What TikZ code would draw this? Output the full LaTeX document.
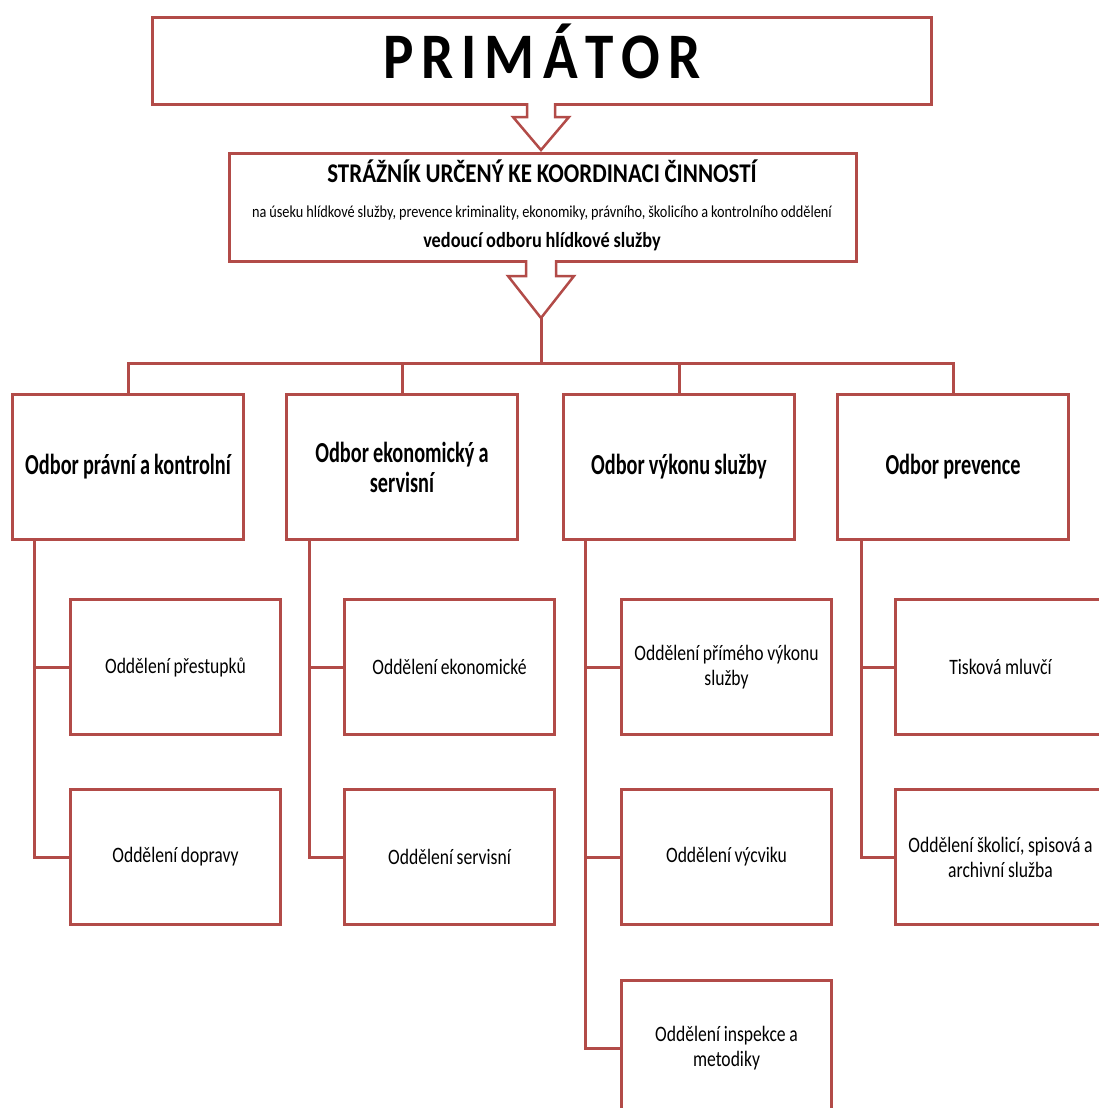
\documentclass[tikz,border=0pt]{standalone}
\usepackage{fontspec}
\setmainfont{Carlito}
\newfontfamily\primf[FakeStretch=0.88]{Carlito}
\newfontfamily\titlef[FakeStretch=0.85,WordSpace=0.9]{Carlito}
\newfontfamily\deptf[FakeStretch=0.70,WordSpace=0.9]{Carlito}
\newfontfamily\subf[FakeStretch=0.80,WordSpace=0.9]{Carlito}
\definecolor{brd}{RGB}{178,75,72}
\tikzset{
  box/.style={draw=brd, line width=3pt, fill=white, anchor=north west, inner sep=0pt, align=flush center},
  dept/.style={box, minimum width=231pt, minimum height=145pt, text width=225pt, font=\deptf\bfseries\fontsize{29}{30}\selectfont},
  sub/.style={box, minimum width=210pt, minimum height=135pt, text width=204pt, font=\subf\fontsize{22}{25}\selectfont},
  conn/.style={draw=brd, line width=3pt},
  arrowline/.style={draw=brd, line width=2.5pt, line join=miter},
  lbl/.style={anchor=base, inner sep=0pt}
}
\begin{document}
\begin{tikzpicture}[x=1pt,y=-1pt]
\useasboundingbox (0,0) rectangle (1099,1108);
\clip (0,0) rectangle (1099,1108);

% top box
\node[box, minimum width=779pt, minimum height=87pt] (prim) at (151,16) {};
\node[lbl] (primtext) at (542,78) {\primf\bfseries\fontsize{65}{70}\selectfont P\hspace{8pt}R\hspace{8pt}I\hspace{8pt}M\hspace{8pt}Á\hspace{8pt}T\hspace{8pt}O\hspace{8pt}R};

% second box
\node[box, minimum width=627pt, minimum height=108pt] (coord) at (228,152) {};
\node[lbl] (t1) at (542,182) {\titlef\bfseries\fontsize{27}{30}\selectfont STRÁŽNÍK URČENÝ KE KOORDINACI ČINNOSTÍ};
\node[lbl] (t2) at (542,217) {\titlef\fontsize{16.8}{19}\selectfont na úseku hlídkové služby, prevence kriminality, ekonomiky, právního, školicího a kontrolního oddělení};
\node[lbl] (t3) at (542,247) {\titlef\bfseries\fontsize{21.5}{24}\selectfont vedoucí odboru hlídkové služby};

% block arrow 1
\fill[white] (527,100) -- (527,117) -- (513,117) -- (541,150) -- (569,117) -- (555,117) -- (555,100) -- cycle;
\draw[arrowline] (527,103) -- (527,117) -- (513,117) -- (541,150) -- (569,117) -- (555,117) -- (555,103);
% block arrow 2
\fill[white] (526,257) -- (526,276) -- (508,276) -- (541,318) -- (574,276) -- (556,276) -- (556,257) -- cycle;
\draw[arrowline] (526,260) -- (526,276) -- (508,276) -- (541,318) -- (574,276) -- (556,276) -- (556,260);
\coordinate (tip) at (541,318);
\coordinate (bus) at (541,363);

% departments
\node[dept] (dA) at (11,393) {Odbor právní a kontrolní};
\node[dept] (dB) at (285,393) {Odbor ekonomický a\\servisní};
\node[dept] (dC) at (562,393) {Odbor výkonu služby};
\node[dept] (dD) at (836,393) {Odbor prevence};

\draw[conn] (tip) -- (bus);
\draw[conn] (dA.north) -- (dA.north |- bus) -- (dD.north |- bus) -- (dD.north);
\draw[conn] (dB.north) -- (dB.north |- bus);
\draw[conn] (dC.north) -- (dC.north |- bus);

% sub-departments
\node[sub] (sA1) at (69,598) {Oddělení přestupků};
\node[sub] (sA2) at (69,788) {Oddělení dopravy};
\node[sub] (sB1) at (343,598) {Oddělení ekonomické};
\node[sub] (sB2) at (343,788) {Oddělení servisní};
\node[sub] (sC1) at (620,598) {Oddělení přímého výkonu\\služby};
\node[sub] (sC2) at (620,788) {Oddělení výcviku};
\node[sub] (sC3) at (620,979) {Oddělení inspekce a\\metodiky};
\node[sub] (sD1) at (894,598) {Tisková mluvčí};
\node[sub] (sD2) at (894,788) {Oddělení školicí, spisová a\\archivní služba};

\coordinate (trA) at ([xshift=23pt]dA.south west);
\coordinate (trB) at ([xshift=24pt]dB.south west);
\coordinate (trC) at ([xshift=23pt]dC.south west);
\coordinate (trD) at ([xshift=25pt]dD.south west);

\draw[conn] (trA) |- (sA2.west);
\draw[conn] (sA1.west) -- (sA1.west -| trA);
\draw[conn] (trB) |- (sB2.west);
\draw[conn] (sB1.west) -- (sB1.west -| trB);
\draw[conn] (trC) |- (sC3.west);
\draw[conn] (sC1.west) -- (sC1.west -| trC);
\draw[conn] (sC2.west) -- (sC2.west -| trC);
\draw[conn] (trD) |- (sD2.west);
\draw[conn] (sD1.west) -- (sD1.west -| trD);
\end{tikzpicture}
\end{document}
